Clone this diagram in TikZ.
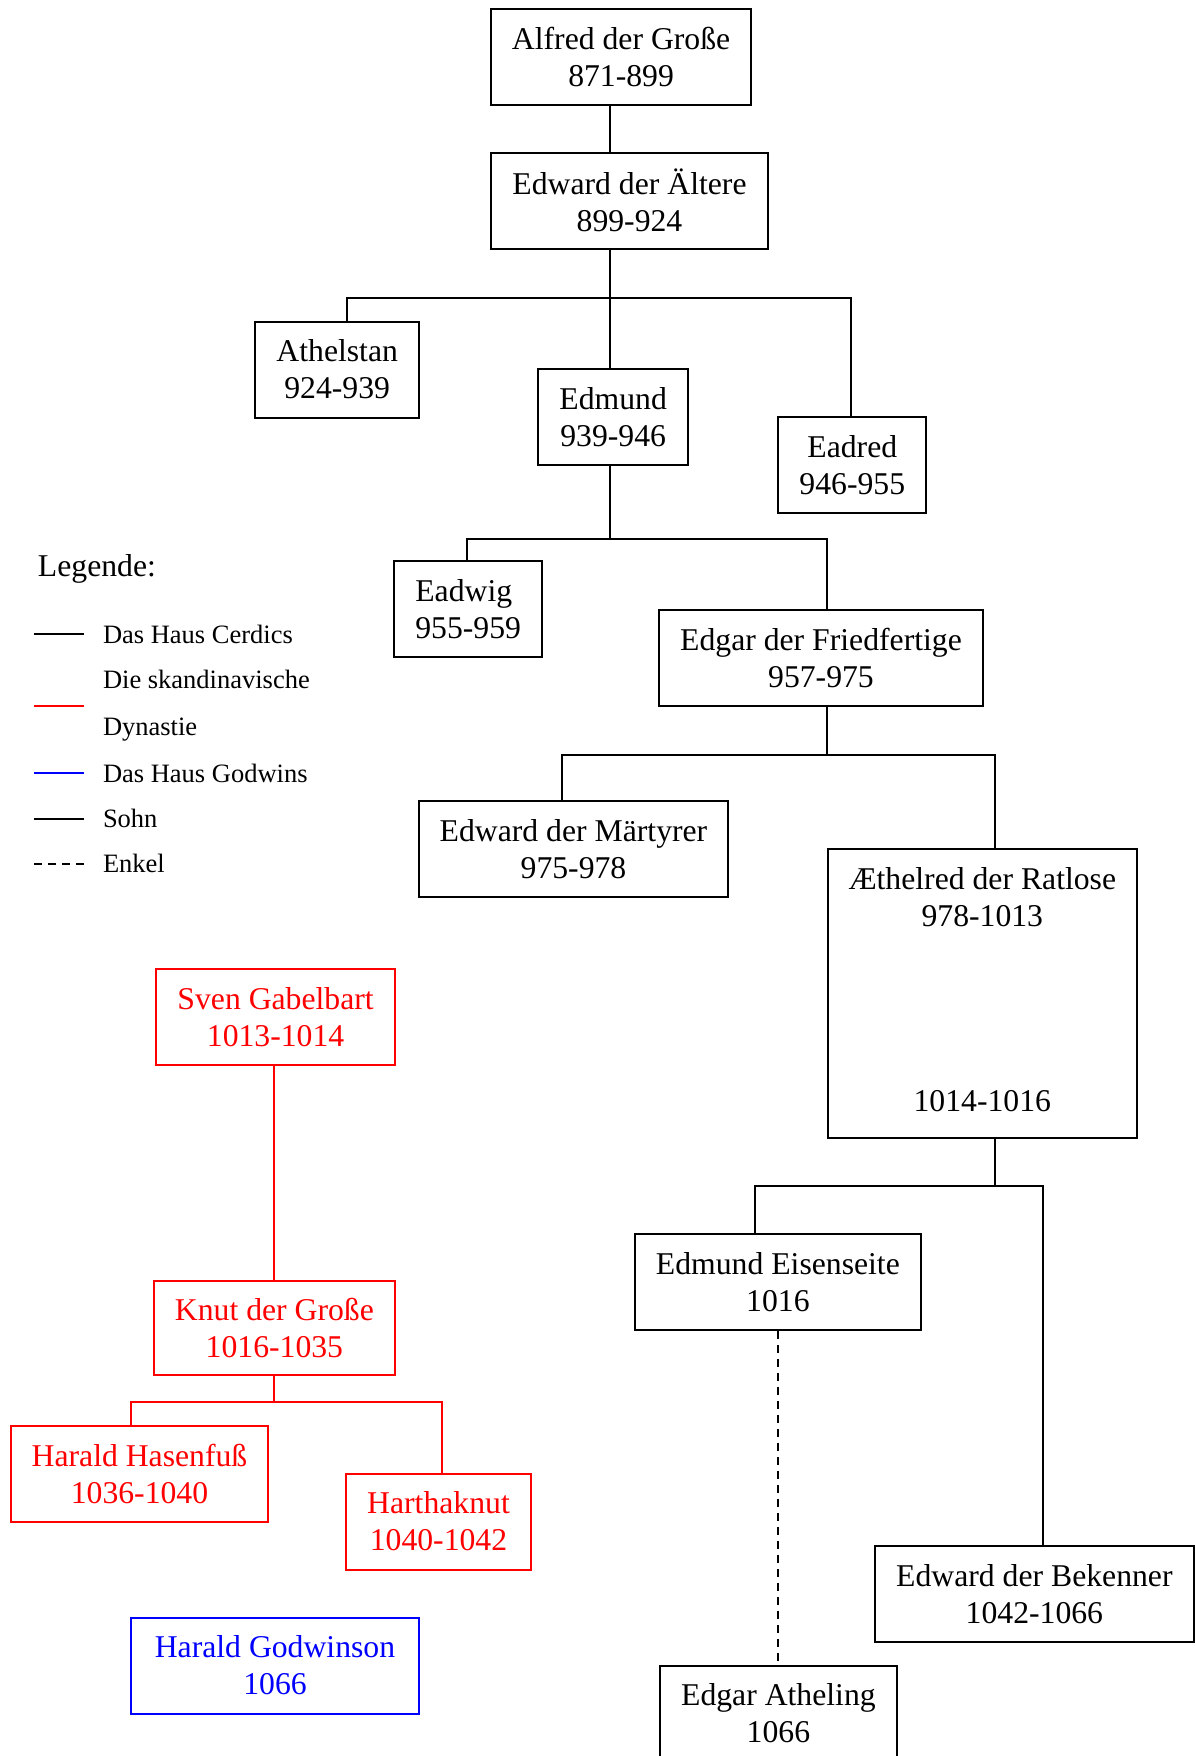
\documentclass[tikz,border=0pt]{standalone}
\usepackage{fontspec}
\setmainfont{Liberation Serif}
\usepackage{xcolor}
\usepackage{tikz}
\definecolor{danered}{RGB}{255,0,0}
\definecolor{godwinblue}{RGB}{0,0,255}

\begin{document}
\begin{tikzpicture}[x=0.5pt,y=-0.5pt,line width=1pt,
    king/.style={draw,align=center,inner xsep=10.5pt,inner ysep=0pt,minimum height=48pt,
      font=\fontsize{15.85pt}{18.5pt}\selectfont},
    dane/.style={king,draw=danered,text=danered},
    godwin/.style={king,draw=godwinblue,text=godwinblue},
    enkel/.style={dash pattern=on 4pt off 3pt},
    legtext/.style={anchor=west,inner sep=0pt,align=left,font=\fontsize{13.25pt}{23.5pt}\selectfont}]
  \useasboundingbox (0,0) rectangle (1194,1756);
  % Haus Cerdics
  \node[king] (alfred) at (621.1,57.2) {Alfred der Große\\871-899};
  \node[king] (edward) at (629.5,200.5) {Edward der Ältere\\899-924};
  \node[king] (athel) at (337.2,369.6) {Athelstan\\924-939};
  \node[king] (edmund) at (613.2,416.7) {Edmund\\939-946};
  \node[king] (eadred) at (852.3,464.8) {Eadred\\946-955};
  \node[king,align=left] (eadwig) at (468.2,609.3) {Eadwig\\955-959};
  \node[king] (edgar) at (821,657.5) {Edgar der Friedfertige\\957-975};
  \node[king] (martyr) at (573.5,849) {Edward der Märtyrer\\975-978};
  \node[king,minimum height=144.5pt] (aethel) at (982.3,993.5)
    {Æthelred der Ratlose\\978-1013\\[74pt]1014-1016\rule[-4pt]{0pt}{4pt}};
  \node[king] (ironside) at (777.9,1281.9) {Edmund Eisenseite\\1016};
  \node[king] (atheling) at (778.4,1713.6) {Edgar Atheling\\1066};
  \node[king] (confessor) at (1034.4,1593.8) {Edward der Bekenner\\1042-1066};
  % Skandinavier und Godwin
  \node[dane] (sven) at (275.6,1017) {Sven Gabelbart\\1013-1014};
  \node[dane,minimum height=47pt] (knut) at (274.4,1328.4) {Knut der Große\\1016-1035};
  \node[dane] (harold) at (139.5,1474) {Harald Hasenfuß\\1036-1040};
  \node[dane] (hartha) at (438.5,1521.6) {Harthaknut\\1040-1042};
  \node[godwin,minimum width=144pt] (godwinson) at (275,1665.5) {Harald Godwinson\\1066};

  \draw ([xshift=-9.55pt]edward.north) -- ([xshift=-9.55pt]edward.north |- alfred.south);
  \draw ([xshift=-9.55pt]edward.south) -- ++(0,48.2) coordinate (f1);
  \draw ([xshift=5pt]athel.north) |- (f1) -| ([xshift=-0.5pt]eadred.north);
  \draw (f1) -- (f1 |- edmund.north);
  \draw ([xshift=-1.4pt]edmund.south) -- ++(0,72.8) coordinate (f2);
  \draw ([xshift=-0.6pt]eadwig.north) |- (f2) -| ([xshift=2.8pt]edgar.north);
  \draw ([xshift=2.8pt]edgar.south) -- ++(0,48.2) coordinate (f3);
  \draw ([xshift=-5.65pt]martyr.north) |- (f3) -| ([xshift=6.15pt]aethel.north);
  \draw ([xshift=6.15pt]aethel.south) -- ++(0,47.1) coordinate (f4);
  \draw ([xshift=-11.5pt]ironside.north) |- (f4) -| ([xshift=4.15pt]confessor.north);
  \draw[enkel] (ironside.south) -- (ironside.south |- atheling.north);
  \draw[danered] (knut.north |- sven.south) -- (knut.north);
  \draw[danered] (knut.south) -- ++(0,25.7) coordinate (f5);
  \draw[danered] ([xshift=-4.25pt]harold.north) |- (f5) -| ([xshift=1.95pt]hartha.north);

  % Legende
  \node[anchor=west,inner sep=0pt,font=\fontsize{15.85pt}{18.5pt}\selectfont] (legend) at (37,569) {Legende:};
  \node[legtext] (lcerdic) at (102,634) {Das Haus Cerdics};
  \node[legtext] (ldane) at (102,705.5) {Die skandinavische\\Dynastie};
  \node[legtext] (lgodwin) at (102,773) {Das Haus Godwins};
  \node[legtext] (lsohn) at (102,818.7) {Sohn};
  \node[legtext] (lenkel) at (102,863.5) {Enkel};
  \draw ([xshift=-9pt]lcerdic.west) -- ++(-50.4,0);
  \draw[danered] ([xshift=-9pt]ldane.west) -- ++(-50.4,0);
  \draw[godwinblue] ([xshift=-9pt]lgodwin.west) -- ++(-50.4,0);
  \draw ([xshift=-9pt]lsohn.west) -- ++(-50.4,0);
  \draw[enkel] ([xshift=-9pt]lenkel.west) -- ++(-50.4,0);
\end{tikzpicture}
\end{document}
